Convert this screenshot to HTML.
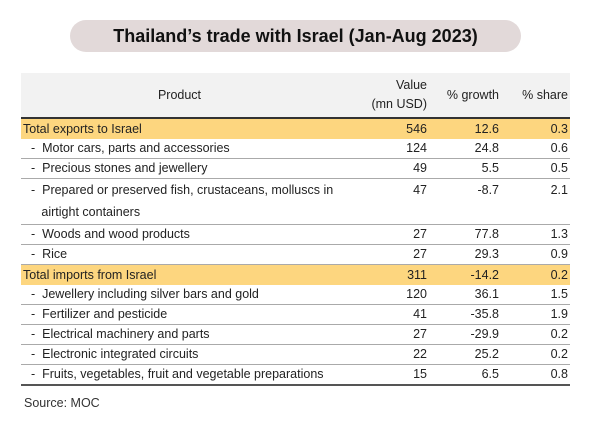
<!DOCTYPE html>
<html><head><meta charset="utf-8"><style>
body{margin:0;width:600px;height:424px;background:#fff;font-family:"Liberation Sans",sans-serif;color:#222;position:relative;overflow:hidden}
#pill{position:absolute;left:70px;top:20px;width:451px;height:32px;border-radius:16px;background:#e2d9d9;text-align:center;line-height:32px;font-weight:bold;font-size:18px;color:#111}
table{position:absolute;left:21px;top:73px;width:549px;border-collapse:collapse;font-size:12.5px}
td,th{padding:0 2px;white-space:nowrap}
th{font-weight:normal;background:#f2f2f2;height:44px;border-bottom:2px solid #333;line-height:19px}
td{border-bottom:1px solid #aaa;height:19px;line-height:19px}
td.n{text-align:right}
tr.tot td{background:#fdd67f;border-bottom:none;height:20px}
tr.last td{border-bottom:2px solid #555}
td.p{padding-left:10px}
.src{position:absolute;left:24px;top:396px;font-size:12.5px;color:#333}
</style></head><body>
<div id="pill">Thailand’s trade with Israel (Jan-Aug 2023)</div>
<table>
<colgroup><col style="width:317px"><col style="width:91px"><col style="width:72px"><col style="width:69px"></colgroup>
<tr><th>Product</th><th style="text-align:right">Value<br>(mn USD)</th><th style="text-align:right">% growth</th><th style="text-align:right">% share</th></tr>
<tr class="tot"><td>Total exports to Israel</td><td class="n">546</td><td class="n">12.6</td><td class="n">0.3</td></tr>
<tr><td class="p">-&nbsp; Motor cars, parts and accessories</td><td class="n">124</td><td class="n">24.8</td><td class="n">0.6</td></tr>
<tr><td class="p">-&nbsp; Precious stones and jewellery</td><td class="n">49</td><td class="n">5.5</td><td class="n">0.5</td></tr>
<tr><td class="p" style="height:45px;vertical-align:top;line-height:22px">-&nbsp; Prepared or preserved fish, crustaceans, molluscs in<br>&nbsp;&nbsp;&nbsp;airtight containers</td><td class="n" style="vertical-align:top;line-height:22px">47</td><td class="n" style="vertical-align:top;line-height:22px">-8.7</td><td class="n" style="vertical-align:top;line-height:22px">2.1</td></tr>
<tr><td class="p">-&nbsp; Woods and wood products</td><td class="n">27</td><td class="n">77.8</td><td class="n">1.3</td></tr>
<tr><td class="p">-&nbsp; Rice</td><td class="n">27</td><td class="n">29.3</td><td class="n">0.9</td></tr>
<tr class="tot"><td>Total imports from Israel</td><td class="n">311</td><td class="n">-14.2</td><td class="n">0.2</td></tr>
<tr><td class="p">-&nbsp; Jewellery including silver bars and gold</td><td class="n">120</td><td class="n">36.1</td><td class="n">1.5</td></tr>
<tr><td class="p">-&nbsp; Fertilizer and pesticide</td><td class="n">41</td><td class="n">-35.8</td><td class="n">1.9</td></tr>
<tr><td class="p">-&nbsp; Electrical machinery and parts</td><td class="n">27</td><td class="n">-29.9</td><td class="n">0.2</td></tr>
<tr><td class="p">-&nbsp; Electronic integrated circuits</td><td class="n">22</td><td class="n">25.2</td><td class="n">0.2</td></tr>
<tr class="last"><td class="p">-&nbsp; Fruits, vegetables, fruit and vegetable preparations</td><td class="n">15</td><td class="n">6.5</td><td class="n">0.8</td></tr>
</table>
<div class="src">Source: MOC</div>
</body></html>
